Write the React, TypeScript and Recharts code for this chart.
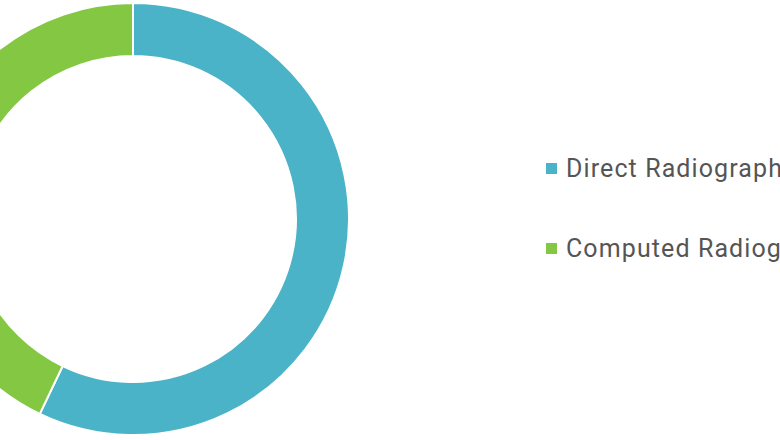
import React from 'react';
import { PieChart, Pie, Cell, Legend } from 'recharts';

const segments = ['Direct Radiography', 'Computed Radiography'];
const shares = [57.1, 42.9];
const colors = ['#4bb3c7', '#83c742'];

const data = segments.map((name, i) => ({ name, value: shares[i] }));

// legend drawn in data order (the default sorts it by name)
const renderLegend = () => (
  <div>
    {segments.map((name, i) => (
      <div
        key={name}
        style={{ display: 'flex', alignItems: 'center', height: 26, marginBottom: i === 0 ? 54 : 0, whiteSpace: 'nowrap' }}
      >
        <span style={{ width: 11, height: 11, background: colors[i], display: 'inline-block', marginRight: 9 }} />
        <span style={{ fontFamily: 'Roboto, sans-serif', fontSize: 25, color: '#555', letterSpacing: 1.1 }}>
          {name}
        </span>
      </div>
    ))}
  </div>
);

export default function App() {
  return (
    <div style={{ position: 'absolute', left: 0, top: 0, width: 780, height: 440, overflow: 'hidden', background: '#fff' }}>
      <PieChart width={780} height={440} margin={{ top: 0, right: 0, bottom: 0, left: 0 }}>
        <Pie
          data={data}
          dataKey="value"
          nameKey="name"
          cx={133}
          cy={219}
          innerRadius={163}
          outerRadius={216}
          startAngle={90}
          endAngle={-270}
          stroke="#fff"
          strokeWidth={2}
          isAnimationActive={false}
        >
          {data.map((d, i) => (
            <Cell key={d.name} fill={colors[i]} />
          ))}
        </Pie>
        <Legend
          layout="vertical"
          content={renderLegend}
          wrapperStyle={{ position: 'absolute', left: 546, top: 155, width: 400 }}
        />
      </PieChart>
    </div>
  );
}
